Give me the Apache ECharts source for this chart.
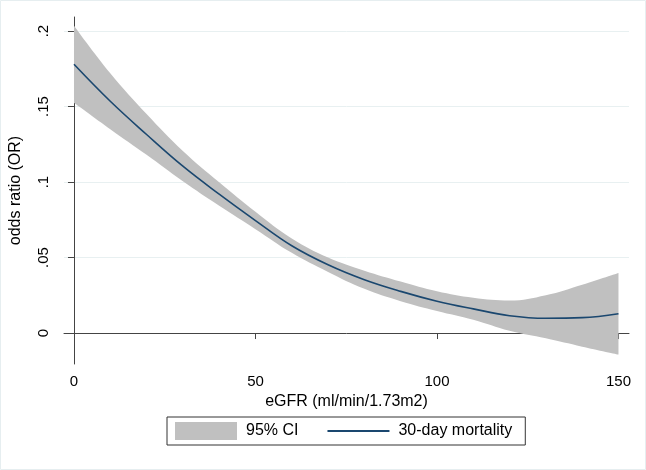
<!DOCTYPE html>
<html>
<head>
<meta charset="utf-8">
<script src="https://cdn.jsdelivr.net/npm/echarts@6/dist/echarts.min.js"></script>
<style>
html,body{margin:0;padding:0;background:#fff;}
#c{width:646px;height:470px;}
</style>
</head>
<body>
<div id="c"></div>
<script>
// eGFR grid points
var egfr = [0,10,20,30,40,50,60,70,80,90,100,110,120,130,140,150];
// 30-day mortality odds estimate
var mortality = [0.178,0.1535,0.1315,0.1105,0.092,0.0745,0.0578,0.0452,0.0353,0.0276,0.0211,0.0160,0.0115,0.0098,0.0102,0.0128];
// 95% CI bounds
var ciUpper = [0.2035,0.172,0.145,0.1205,0.0998,0.0803,0.0626,0.0500,0.0413,0.0341,0.0276,0.0233,0.0215,0.0250,0.0320,0.0398];
var ciLower = [0.1525,0.135,0.118,0.1005,0.0843,0.0688,0.0531,0.0405,0.0293,0.0211,0.0146,0.0088,0.0015,-0.0035,-0.0090,-0.0142];
// ticks
var xTicks = [0,50,100,150];
var yTicks = [0,0.05,0.1,0.15,0.2];
var yTickLabels = ['0','.05','.1','.15','.2'];

var chart = echarts.init(document.getElementById('c'), null, {renderer:'canvas'});
var font = 'Liberation Sans, Arial, Helvetica, sans-serif';
// value first so that stacking happens on the y dimension
var lowerData = egfr.map(function(x,i){return [ciLower[i], x];});
var diffData = egfr.map(function(x,i){return [ciUpper[i]-ciLower[i], x];});
var lineData = egfr.map(function(x,i){return [x, mortality[i]];});

chart.setOption({
  animation:false,
  backgroundColor:'#fff',
  textStyle:{fontFamily:font},
  graphic:[{type:'rect',shape:{x:0.5,y:0.5,width:645,height:469},style:{fill:'none',stroke:'#e6eef0',lineWidth:1},silent:true}],
  grid:{left:64,right:17,top:17,bottom:106,containLabel:false},
  legend:{
    left:167, top:417,
    data:[{name:'95% CI',icon:'rect'},{name:'30-day mortality',itemStyle:{color:'rgba(0,0,0,0)',borderWidth:0,opacity:0}}],
    itemWidth:62, itemHeight:18, itemGap:28,
    borderColor:'#333', borderWidth:1, padding:[5,13,5,8],
    textStyle:{fontSize:16,color:'#000',fontFamily:font,padding:[0,0,0,4]},
    selectedMode:false
  },
  xAxis:{
    type:'value', min:-2.75, max:152.9,
    name:'eGFR (ml/min/1.73m2)', nameLocation:'middle', nameGap:28,
    nameTextStyle:{fontSize:16,color:'#000',fontFamily:font},
    axisLine:{lineStyle:{color:'#444',width:1}},
    axisTick:{customValues:xTicks,length:6,lineStyle:{color:'#444'}},
    axisLabel:{customValues:xTicks,fontSize:15,color:'#000',margin:10,fontFamily:font},
    splitLine:{show:false}
  },
  yAxis:{
    type:'value', min:-0.0205, max:0.2093,
    name:'odds ratio (OR)', nameLocation:'middle', nameGap:40, nameRotate:90,
    nameTextStyle:{fontSize:16,color:'#000',fontFamily:font},
    axisLine:{show:true,lineStyle:{color:'#444',width:1}},
    axisTick:{show:true,customValues:yTicks,length:6,lineStyle:{color:'#444'}},
    axisLabel:{customValues:yTicks,rotate:90,fontSize:15,color:'#000',margin:13,fontFamily:font,
      formatter:function(v){var i=yTicks.indexOf(v);return i>=0?yTickLabels[i]:'';}},
    splitLine:{show:true,lineStyle:{color:'#e8f0f1',width:1}}
  },
  series:[
    {name:'ciLower',type:'line',data:lowerData,encode:{x:1,y:0},stack:'ci',stackStrategy:'all',smooth:0.4,
      symbol:'none',lineStyle:{opacity:0},silent:true},
    {name:'95% CI',type:'line',data:diffData,encode:{x:1,y:0},stack:'ci',stackStrategy:'all',smooth:0.4,
      symbol:'none',lineStyle:{opacity:0},areaStyle:{color:'#c0c0c0',opacity:1},itemStyle:{color:'#c0c0c0'},silent:true},
    {name:'30-day mortality',type:'line',data:lineData,smooth:0.4,symbol:'none',
      lineStyle:{color:'#1a476f',width:1.6},itemStyle:{color:'#1a476f'}}
  ]
});
</script>
</body>
</html>
